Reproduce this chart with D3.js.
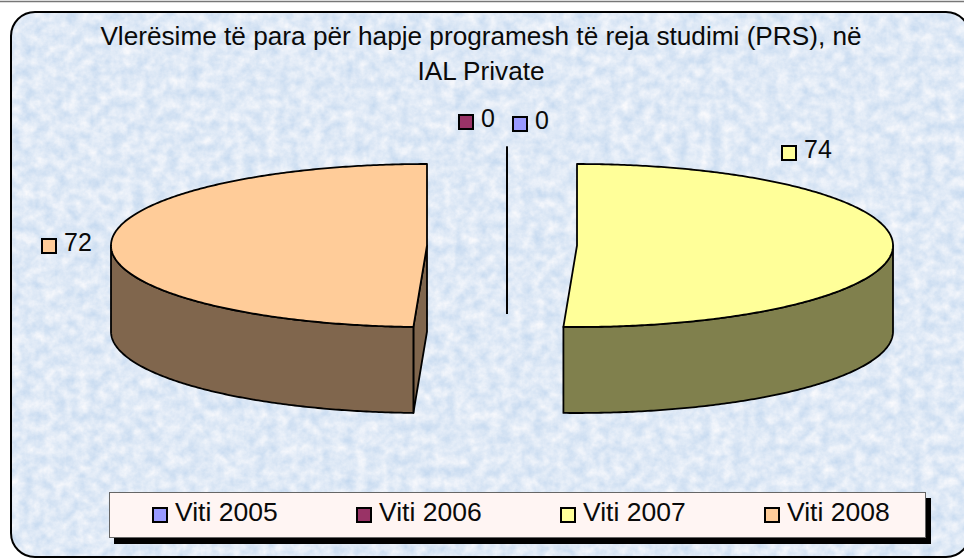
<!DOCTYPE html>
<html><head><meta charset="utf-8">
<script src="https://cdn.jsdelivr.net/npm/d3@7"></script>
<style>html,body{margin:0;padding:0;background:#fff;overflow:hidden}svg{display:block}text{font-family:"Liberation Sans",Arial,sans-serif;fill:#0a0a0a}</style>
</head><body><svg id="c" width="964" height="558"></svg>
<script>
const titleLines = ["Vlerësime të para për hapje programesh të reja studimi (PRS), në", "IAL Private"];
const categories = ["Viti 2005", "Viti 2006", "Viti 2007", "Viti 2008"];
const values = [0, 0, 74, 72];
const colors = ["#9999FF", "#993366", "#FFFF99", "#FFCC99"];
const sideColors = ["#4D4D80", "#4D1A33", "#80804D", "#80664D"];

const DEPTH = 86;
const explode = [[507, 228], [507, 228], [577, 245.5], [427, 245.5]];
const labelPos = [[512, 116], [458, 114], [781, 145], [41, 238]];

const svg = d3.select("#c");
const defs = svg.append("defs");
const f = defs.append("filter").attr("id", "marble").attr("x", 0).attr("y", 0).attr("width", "100%").attr("height", "100%")
  .attr("color-interpolation-filters", "sRGB");
f.append("feTurbulence").attr("type", "fractalNoise").attr("baseFrequency", "0.09").attr("numOctaves", 4).attr("seed", 11).attr("result", "n");
f.append("feColorMatrix").attr("in", "n").attr("type", "matrix")
  .attr("values", "0.24 0 0 0 0.755  0.15 0 0 0 0.84  0.06 0 0 0 0.935  0 0 0 0 1");

const frame = {x: 11, y: 12, w: 959, h: 545, r: 24};
defs.append("clipPath").attr("id", "fr").append("rect")
  .attr("x", frame.x).attr("y", frame.y).attr("width", frame.w).attr("height", frame.h).attr("rx", frame.r);

svg.append("line").attr("x1", 0).attr("x2", 964).attr("y1", 1.5).attr("y2", 1.5).attr("stroke", "#777").attr("stroke-width", 1.5);
svg.append("rect").attr("x", 0).attr("y", 0).attr("width", 964).attr("height", 558)
  .attr("filter", "url(#marble)").attr("clip-path", "url(#fr)");
svg.append("rect").attr("x", frame.x).attr("y", frame.y).attr("width", frame.w).attr("height", frame.h).attr("rx", frame.r)
  .attr("fill", "none").attr("stroke", "#000").attr("stroke-width", 2);

svg.selectAll("text.title").data(titleLines).join("text").attr("class", "title")
  .attr("x", 481).attr("y", (d, i) => 45 + i * 35).attr("text-anchor", "middle")
  .attr("font-size", 26.2).text(d => d);

const sx = d3.scaleLinear().domain([-1, 1]).range([-316, 316]);
const sy = d3.scaleLinear().domain([-1, 1]).range([81.5, -81.5]);
const arcs = d3.pie().sort(null).value(d => d)(values);
const line = d3.line();
const pt = (c, a, dz = 0) => [c[0] + sx(Math.sin(a)), c[1] + sy(Math.cos(a)) + dz];
const sweep = (c, a0, a1, dz = 0) => {
  const n = Math.max(2, Math.ceil(Math.abs(a1 - a0) / 0.01));
  return d3.range(n + 1).map(i => pt(c, a0 + (a1 - a0) * i / n, dz));
};
const stroke = g => g.attr("stroke", "#000").attr("stroke-width", 1.8).attr("stroke-linejoin", "round");
const chart = svg.append("g");

arcs.forEach((d, i) => {
  const c = explode[i];
  const a0 = d.startAngle, a1 = d.endAngle;
  if (a1 - a0 < 1e-6) {
    const p = pt(c, a0);
    chart.append("path").attr("d", line([p, c, [c[0], c[1] + DEPTH]])).attr("fill", "none").call(stroke);
    return;
  }
  if (a0 > Math.PI) {
    const p = pt(c, a0);
    chart.append("path").attr("d", line([c, p, [p[0], p[1] + DEPTH], [c[0], c[1] + DEPTH]]) + "Z")
      .attr("fill", sideColors[i]).call(stroke);
  }
  const w0 = Math.max(a0, Math.PI / 2), w1 = Math.min(a1, 3 * Math.PI / 2);
  chart.append("path").attr("d", line([...sweep(c, w0, w1), ...sweep(c, w1, w0, DEPTH)]) + "Z")
    .attr("fill", sideColors[i]).call(stroke);
  chart.append("path").attr("d", line([c, ...sweep(c, a0, a1)]) + "Z").attr("fill", colors[i]).call(stroke);
});

values.forEach((v, i) => {
  const [x, y] = labelPos[i];
  svg.append("rect").attr("x", x + 1).attr("y", y + 1).attr("width", 14).attr("height", 14)
    .attr("fill", colors[i]).attr("stroke", "#000").attr("stroke-width", 2);
  svg.append("text").attr("x", x + 23).attr("y", y + 13).attr("font-size", 25).text(v);
});

const lg = svg.append("g");
lg.append("rect").attr("x", 114).attr("y", 498).attr("width", 817).attr("height", 46).attr("fill", "#000");
lg.append("rect").attr("x", 109.5).attr("y", 492.5).attr("width", 816).attr("height", 45)
  .attr("fill", "#FFF5F3").attr("stroke", "#666").attr("stroke-width", 1);
const lx = d3.scalePoint().domain(categories).range([152, 764]);
categories.forEach((name, i) => {
  const x = lx(name);
  lg.append("rect").attr("x", x + 1).attr("y", 508).attr("width", 14).attr("height", 14)
    .attr("fill", colors[i]).attr("stroke", "#000").attr("stroke-width", 2);
  lg.append("text").attr("x", x + 23).attr("y", 521).attr("font-size", 26.5).text(name);
});
</script></body></html>
